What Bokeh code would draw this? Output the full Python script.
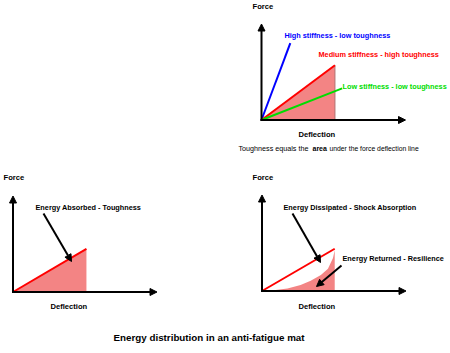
from bokeh.plotting import figure
from bokeh.models import Range1d, Arrow, NormalHead
from bokeh.core.properties import value
from bokeh.embed import file_html
from bokeh.resources import INLINE

# ---- data (deflection / force in arbitrary units, axes span 0..10) ----
top_lines_names = ["High stiffness - low toughness", "Medium stiffness - high toughness", "Low stiffness - low toughness"]
top_lines_defl = [2.0, 5.1, 5.6]
top_lines_force = [8.0, 5.7, 3.3]
top_lines_colors = ["#0000ff", "#ff0000", "#00dd00"]

absorbed_defl = [0.0, 5.1]
absorbed_force = [0.0, 4.5]

dissipated_defl = [0.0, 5.05]
dissipated_force = [0.0, 4.4]
# unloading (resilience) curve
returned_defl = [0.0, 0.81, 1.77, 2.68, 3.38, 4.09, 4.58, 4.93, 5.05]
returned_force = [0.0, 0.07, 0.26, 0.62, 1.06, 1.67, 2.33, 3.43, 4.27]

FONT = "Liberation Sans"
W, H = 450, 353
SX, SY = 14.4, 9.6  # px per unit

p = figure(width=W, height=H, output_backend="svg", toolbar_location=None,
           x_range=Range1d(0, W), y_range=Range1d(H, 0), min_border=0,
           background_fill_color="white", border_fill_color="white")
p.axis.visible = False
p.grid.visible = False
p.outline_line_color = None


def tx(o, d):
    return [o[0] + v * SX for v in d]


def ty(o, f):
    return [o[1] - v * SY for v in f]


def label(x, y, t, color="black", size="7.3px", bold=True, align="left"):
    p.text(x=[x], y=[y], text=[t], text_color=color, text_font=value(FONT),
           text_font_size=size, text_font_style="bold" if bold else "normal",
           text_align=align, text_baseline="middle")


def axes(o):
    x0, y0 = o
    p.add_layout(Arrow(x_start=x0, y_start=y0 + 1, x_end=x0, y_end=y0 - 10 * SY,
                       line_width=2, line_color="black",
                       end=NormalHead(size=7, fill_color="black", line_color="black")))
    p.add_layout(Arrow(x_start=x0 - 1, y_start=y0, x_end=x0 + 10 * SX, y_end=y0,
                       line_width=2, line_color="black",
                       end=NormalHead(size=7, fill_color="black", line_color="black")))


def pointer(x0, y0, x1, y1):
    p.add_layout(Arrow(x_start=x0, y_start=y0, x_end=x1, y_end=y1,
                       line_width=2, line_color="black",
                       end=NormalHead(size=7, fill_color="black", line_color="black")))


PINK = "#f38484"

# ---------------- top panel ----------------
o1 = (261, 119.5)
mx, my = tx(o1, [0, top_lines_defl[1], top_lines_defl[1]]), ty(o1, [0, top_lines_force[1], 0])
p.patch(x=mx, y=my, fill_color=PINK, line_color=None)
p.line(x=[mx[1], mx[2]], y=[my[1], my[2]], line_color="#b07070", line_width=1)
for d, f, c in zip(top_lines_defl, top_lines_force, top_lines_colors):
    p.line(x=tx(o1, [0, d]), y=ty(o1, [0, f]), line_color=c, line_width=2)
axes(o1)
label(252, 6, "Force", size="7.6px")
label(298, 134, "Deflection", size="7.6px")
label(284, 35, top_lines_names[0], color=top_lines_colors[0])
label(318, 54, top_lines_names[1], color=top_lines_colors[1])
label(342, 86, top_lines_names[2], color=top_lines_colors[2])
label(238, 148, "Toughness equals the", size="7.2px", bold=False)
label(312, 148, "area", size="7px", bold=True)
label(329, 148, "under the force deflection line", size="6.8px", bold=False)

# ---------------- bottom left ----------------
o2 = (12.5, 291.5)
ax, ay = tx(o2, [0, absorbed_defl[1], absorbed_defl[1]]), ty(o2, [0, absorbed_force[1], 0])
p.patch(x=ax, y=ay, fill_color=PINK, line_color=None)
p.line(x=tx(o2, absorbed_defl), y=ty(o2, absorbed_force), line_color="#ff0000", line_width=2)
axes(o2)
label(3, 177, "Force", size="7.6px")
label(50, 306, "Deflection", size="7.6px")
label(35, 207, "Energy Absorbed - Toughness")
pointer(43, 213, 71, 261)

# ---------------- bottom right ----------------
o3 = (261.5, 290.5)
rx = tx(o3, returned_defl + [returned_defl[-1]])
ry = ty(o3, returned_force + [0])
p.patch(x=rx, y=ry, fill_color=PINK, line_color=None)
p.line(x=tx(o3, dissipated_defl), y=ty(o3, dissipated_force), line_color="#ff0000", line_width=2)
axes(o3)
label(252, 177, "Force", size="7.6px")
label(298, 306, "Deflection", size="7.6px")
label(283, 207, "Energy Dissipated - Shock Absorption")
pointer(292, 213, 320, 262)
label(342, 258, "Energy Returned - Resilience")
pointer(341, 265, 316, 286)

# ---------------- title ----------------
label(113, 337, "Energy distribution in an anti-fatigue mat", size="9.8px")

open("out.html", "w").write(file_html(p, INLINE))
